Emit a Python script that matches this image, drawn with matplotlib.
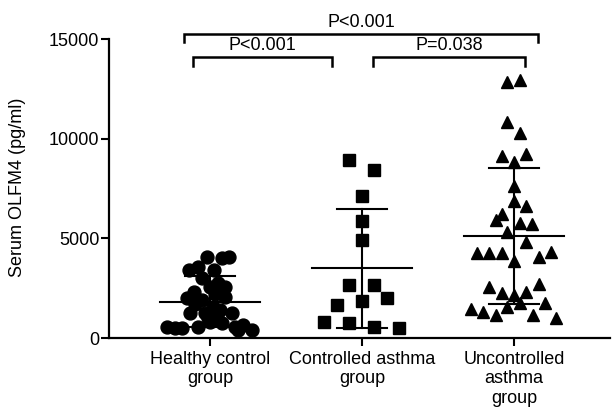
import numpy as np
import matplotlib.pyplot as plt

plt.rcParams['font.family'] = ['Liberation Sans', 'DejaVu Sans']

# group labels
groups = ["Healthy control\ngroup", "Controlled asthma\ngroup", "Uncontrolled\nasthma\ngroup"]

# serum OLFM4 (pg/ml), with horizontal spread (category units)
healthy_vals = [4090, 4030, 4060, 3590, 3420, 3420, 3000, 2770, 2580, 2580, 2330,
                2000, 1910, 2080, 1580, 1240, 1240, 1160, 1240, 570, 490, 490,
                570, 820, 740, 570, 650, 400, 400, 1000, 1400, 1700, 2200]
healthy_dx = [-0.02, 0.08, 0.125, -0.08, -0.14, 0.025, -0.05, 0.05, 0.0, 0.10, -0.105,
              -0.15, -0.05, 0.10, 0.02, -0.13, -0.03, 0.045, 0.145, -0.28, -0.23, -0.185,
              -0.08, 0.0, 0.08, 0.165, 0.215, 0.275, 0.185, -0.015, 0.065, -0.10, 0.03]

controlled_vals = [8960, 8460, 7110, 5860, 4900, 2670, 2670, 1660, 1860, 2010,
                   820, 770, 570, 490]
controlled_dx = [-0.085, 0.08, 0.0, 0.0, 0.0, -0.085, 0.08, -0.165, 0.0, 0.165,
                 -0.25, -0.085, 0.08, 0.245]

uncontrolled_vals = [12850, 12940, 10840, 10300, 9130, 9260, 8830, 7650, 6860, 6610,
                     6240, 5940, 5770, 5740, 5300, 4800, 4290, 4260, 4260, 4340,
                     4090, 3890, 2550, 2720, 2250, 2160, 2330, 1750, 1540, 1750,
                     1440, 1320, 1160, 1160, 990]
uncontrolled_dx = [-0.045, 0.04, -0.045, 0.04, -0.08, 0.08, 0.0, 0.0, 0.0, 0.08,
                   -0.08, -0.12, 0.04, 0.12, -0.045, 0.08, -0.245, -0.165, -0.08, 0.245,
                   0.16, 0.0, -0.165, 0.16, -0.08, 0.0, 0.08, 0.04, -0.045, 0.2,
                   -0.285, -0.205, -0.12, 0.125, 0.275]

means = [1830, 3500, 5120]
sds = [1260, 2980, 3420]

# significance brackets: (x start, x end, y, label)
brackets = [(0.829, 3.158, 15290, "P<0.001"),
            (0.888, 1.803, 14110, "P<0.001"),
            (2.072, 3.072, 14110, "P=0.038")]

fig = plt.figure(figsize=(6.12, 4.11), dpi=100)
ax = fig.add_axes([109 / 612, 73 / 411, 501 / 612, 298.7 / 411])

data = [(healthy_vals, healthy_dx, 'o'),
        (controlled_vals, controlled_dx, 's'),
        (uncontrolled_vals, uncontrolled_dx, '^')]

for i, (vals, dx, mk) in enumerate(data):
    c = i + 1
    ax.plot(c + np.array(dx), vals, linestyle='none', marker=mk, ms=9.3,
            color='black', zorder=3, clip_on=False)
    m, s = means[i], sds[i]
    ax.plot([c - 0.33, c + 0.33], [m, m], color='black', lw=1.5, zorder=2)
    ax.plot([c, c], [m - s, m + s], color='black', lw=1.5, zorder=2)
    for yy in (m - s, m + s):
        ax.plot([c - 0.165, c + 0.165], [yy, yy], color='black', lw=1.5, zorder=2)

drop = 440
for x0, x1, y, lab in brackets:
    ax.plot([x0, x0, x1, x1], [y - drop, y, y, y - drop], color='black', lw=1.8,
            clip_on=False, solid_joinstyle='miter')
    ax.text((x0 + x1) / 2, y + 130, lab, ha='center', va='bottom', fontsize=13,
            clip_on=False)

ax.set_xlim(0.336, 3.63)
ax.set_ylim(0, 15000)
ax.set_yticks([0, 5000, 10000, 15000])
ax.set_yticklabels(["0", "5000", "10000", "15000"])
ax.set_xticks([1, 2, 3])
ax.set_xticklabels(groups, fontsize=13)
ax.tick_params(axis='both', labelsize=13, width=1.5, length=6, direction='out')
ax.tick_params(axis='x', pad=3)
ax.tick_params(axis='y', pad=1)
for sp in ['top', 'right']:
    ax.spines[sp].set_visible(False)
for sp in ['left', 'bottom']:
    ax.spines[sp].set_linewidth(1.6)

fig.text(18 / 612, 1 - 187 / 411, "Serum OLFM4 (pg/ml)", rotation=90,
         ha='center', va='center', fontsize=13)

fig.savefig("out.png", dpi=100)
